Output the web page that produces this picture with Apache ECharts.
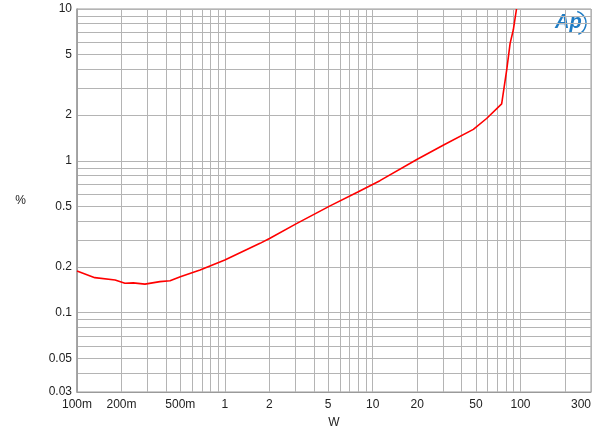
<!DOCTYPE html>
<html>
<head>
<meta charset="utf-8">
<script src="https://cdn.jsdelivr.net/npm/echarts@6/dist/echarts.min.js"></script>
<style>
  html,body{margin:0;padding:0;background:#fff;}
  #box{width:600px;height:434px;}
</style>
</head>
<body>
<div id="box"></div>
<script>
// power (W) and THD+N (%)
var watts = [0.1, 0.132, 0.181, 0.211, 0.24, 0.288, 0.364, 0.426, 0.5, 0.68, 1.0, 1.73, 2.02, 3.03, 5.15, 8.0, 11.2, 19.9, 30.2, 48, 59, 74.6, 80.7, 85.1, 89.4, 94];
var thd   = [0.188, 0.170, 0.164, 0.156, 0.157, 0.154, 0.160, 0.162, 0.172, 0.191, 0.222, 0.286, 0.309, 0.384, 0.505, 0.626, 0.74, 1.02, 1.27, 1.61, 1.90, 2.37, 3.97, 5.94, 7.27, 10.0];

// grid lines and labels
var xGrid = [0.1,0.2,0.3,0.4,0.5,0.6,0.7,0.8,0.9,1,2,3,4,5,6,7,8,9,10,20,30,40,50,60,70,80,90,100,200,300];
var xLabels = [0.1,0.2,0.5,1,2,5,10,20,50,100,300];
var xLabelText = {0.1:'100m',0.2:'200m',0.5:'500m'};
var yGrid = [0.03,0.04,0.05,0.06,0.07,0.08,0.09,0.1,0.2,0.3,0.4,0.5,0.6,0.7,0.8,0.9,1,2,3,4,5,6,7,8,9,10];
var yLabels = [0.03,0.05,0.1,0.2,0.5,1,2,5,10];

var points = watts.map(function(w,i){ return [w, thd[i]]; });

var font = 'Liberation Sans, Arial, sans-serif';
var myChart = echarts.init(document.getElementById('box'));
var option = {
  animation:false,
  backgroundColor:'#fff',
  grid:{left:77,right:9,top:9,bottom:42,show:true,borderColor:'#9a9a9a',borderWidth:1,outerBoundsMode:'none',containLabel:false},
  xAxis:{
    type:'log',min:0.1,max:300,
    name:'W',nameLocation:'middle',nameGap:25,
    nameTextStyle:{color:'#222',fontSize:12,fontFamily:font},
    axisLine:{lineStyle:{color:'#9a9a9a'}},
    axisTick:{show:false,customValues:xGrid},
    axisLabel:{customValues:xLabels,color:'#222',fontSize:12,fontFamily:font,margin:7,alignMaxLabel:'right',
      formatter:function(v){ var k = Math.round(v*10)/10; return xLabelText[k] || String(Math.round(v)); }},
    splitLine:{show:true,lineStyle:{color:'#b4b4b4',width:1}},
    minorSplitLine:{show:false}
  },
  yAxis:{
    type:'log',min:0.03,max:10,
    name:'%',nameLocation:'middle',nameRotate:0,nameGap:51,
    nameTextStyle:{color:'#222',fontSize:12,fontFamily:font},
    axisLine:{lineStyle:{color:'#9a9a9a',width:1.5}},
    axisTick:{show:false,customValues:yGrid},
    axisLabel:{customValues:yLabels,color:'#222',fontSize:12,fontFamily:font,margin:5,
      formatter:function(v){ return String(parseFloat(v.toPrecision(3))); }},
    splitLine:{show:true,lineStyle:{color:'#b4b4b4',width:1}}
  },
  graphic:[
    {type:'text',left:555,top:12,style:{text:'Ap',font:'italic bold 20px Liberation Sans, Arial',fill:'#1f7cc4'}},
    {type:'arc',shape:{cx:574,cy:23,r:12,startAngle:-1.3,endAngle:1.2},style:{stroke:'#1f7cc4',lineWidth:1.5,fill:null}}
  ],
  series:[{
    type:'line',data:points,symbol:'none',smooth:false,
    lineStyle:{color:'#ff0000',width:1.6},
    itemStyle:{color:'#ff0000'}
  }]
};
myChart.setOption(option);
</script>
</body>
</html>
